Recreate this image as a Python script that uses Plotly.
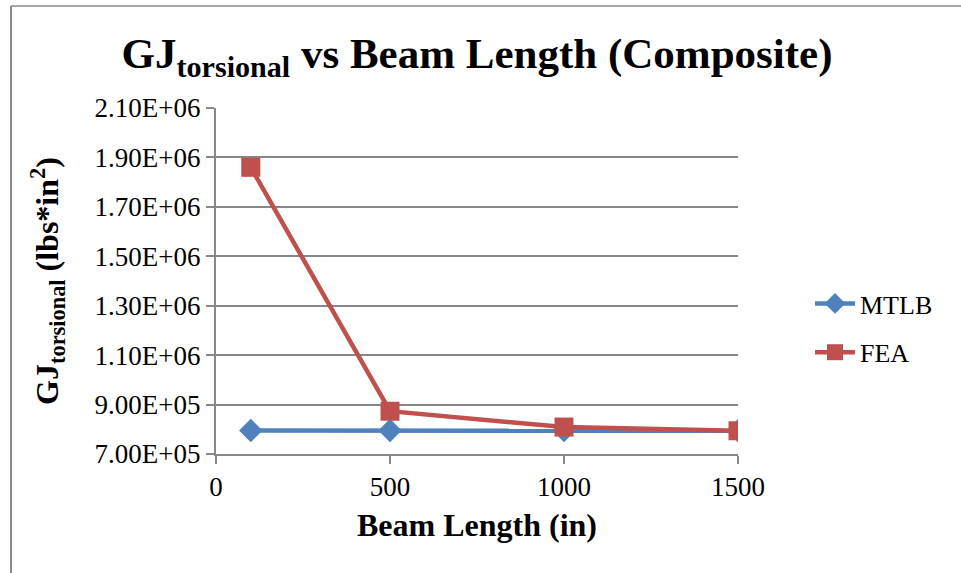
import plotly.graph_objects as go

beam_length = [100, 500, 1000, 1500]
mtlb = [7.95e5, 7.95e5, 7.95e5, 7.94e5]
fea = [1.86e6, 8.73e5, 8.09e5, 7.94e5]

x_ticks = [0, 500, 1000, 1500]
y_ticks = [7.0e5, 9.0e5, 1.1e6, 1.3e6, 1.5e6, 1.7e6, 1.9e6, 2.1e6]
y_tick_text = ["7.00E+05", "9.00E+05", "1.10E+06", "1.30E+06", "1.50E+06",
               "1.70E+06", "1.90E+06", "2.10E+06"]

FONT = "Liberation Serif, Times New Roman, serif"
BLUE = "#4F81BD"
RED = "#C0504D"
GRID = "#878787"

fig = go.Figure()
fig.add_trace(go.Scatter(
    x=beam_length, y=mtlb, name="MTLB", mode="lines+markers",
    legendgroup="a",
    line=dict(color=BLUE, width=4.5),
    marker=dict(symbol="diamond", size=18, color=BLUE),
))
fig.add_trace(go.Scatter(
    x=beam_length, y=fea, name="FEA", mode="lines+markers",
    legendgroup="b",
    line=dict(color=RED, width=4.5),
    marker=dict(symbol="square", size=19, color=RED),
))

L, R, T, B = 216, 961 - 738, 108, 573 - 454
W, H = 961, 573
pw, ph = W - L - R, H - T - B

def px_x(p):
    return (p - L) / pw

def px_y(p):
    return (H - B - p) / ph

fig.update_layout(
    width=W, height=H,
    margin=dict(l=L, r=R, t=T, b=B, pad=0),
    paper_bgcolor="white", plot_bgcolor="white",
    font=dict(family=FONT, color="black", size=20),
    title=dict(
        text="<b>GJ<sub>torsional</sub> vs Beam Length (Composite)</b>",
        font=dict(family=FONT, size=43, color="black"),
        x=0.5, xanchor="center", xref="paper",
        y=1 - 53 / H, yref="container", yanchor="middle",
    ),
    xaxis=dict(
        range=[0, 1500], tickvals=x_ticks, ticktext=[str(v) for v in x_ticks],
        showgrid=False, zeroline=False,
        showline=True, linecolor=GRID, linewidth=2,
        ticks="outside", ticklen=8, tickcolor=GRID, tickwidth=2,
        tickfont=dict(family=FONT, size=27, color="black"),
        title=dict(text="<b>Beam Length (in)</b>",
                   font=dict(family=FONT, size=32, color="black"), standoff=12),
    ),
    yaxis=dict(
        range=[7.0e5, 2.1e6], tickvals=y_ticks, ticktext=y_tick_text,
        showgrid=True, gridcolor=GRID, gridwidth=2, zeroline=False,
        showline=True, linecolor=GRID, linewidth=2,
        ticks="outside", ticklen=8, tickcolor=GRID, tickwidth=2,
        tickfont=dict(family=FONT, size=27, color="black"),
        title=dict(text="<b>GJ<sub>torsional</sub> (lbs*in<sup>2</sup>)</b>",
                   font=dict(family=FONT, size=32, color="black"), standoff=26),
    ),
    legend=dict(
        x=px_x(810), y=px_y(280), xanchor="left", yanchor="top",
        font=dict(family=FONT, size=26, color="black"),
        bgcolor="rgba(0,0,0,0)", itemwidth=40, tracegroupgap=12,
    ),
    showlegend=True,
    shapes=[
        dict(type="line", xref="paper", yref="paper",
             x0=px_x(11), x1=px_x(11), y0=px_y(6), y1=px_y(600),
             line=dict(color="#8a8a8a", width=2)),
        dict(type="line", xref="paper", yref="paper",
             x0=px_x(11), x1=px_x(990), y0=px_y(6), y1=px_y(6),
             line=dict(color="#8a8a8a", width=1.5)),
    ],
)

fig.write_html("out.html")
